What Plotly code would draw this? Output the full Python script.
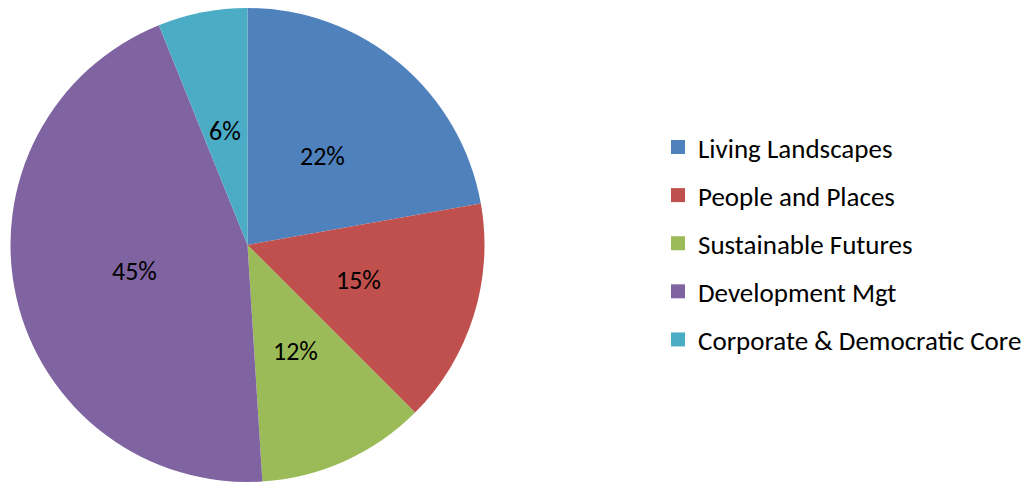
import math
import plotly.graph_objects as go

categories = ["Living Landscapes", "People and Places", "Sustainable Futures",
              "Development Mgt", "Corporate & Democratic Core"]
values = [22.2, 15.3, 11.5, 44.9, 6.1]
colors = ["#4F81BD", "#C0504D", "#9BBB59", "#8064A2", "#4BACC6"]

FONT = "Calibri, Carlito, Lato, sans-serif"
W, H = 1032, 485
DX = [10 / W, 485 / W]
DY = [3 / H, 477 / H]

fig = go.Figure()
fig.add_trace(go.Pie(
    labels=categories, values=values, sort=False, direction="clockwise",
    rotation=0, marker=dict(colors=colors, line=dict(width=0)),
    textinfo="none", domain=dict(x=DX, y=DY),
    showlegend=False, hoverinfo="label+percent",
))
for c, col in zip(categories, colors):
    fig.add_trace(go.Scatter(
        x=[None], y=[None], mode="markers", name=c, legendgroup=c,
        marker=dict(symbol="square", size=14, color=col),
    ))

# percentage labels placed along each slice's mid-angle, at ~half radius
total = sum(values)
cx = (DX[0] + DX[1]) / 2
cy = (DY[0] + DY[1]) / 2
R = min((DX[1] - DX[0]) * W, (DY[1] - DY[0]) * H) / 2
cum = 0.0
for v in values:
    mid = (cum + v / 2) / total * 2 * math.pi
    cum += v
    px = cx + 0.49 * R * math.sin(mid) / W
    py = cy + 0.49 * R * math.cos(mid) / H
    pct = int(math.floor(v / total * 100 + 0.5))
    fig.add_annotation(x=px, y=py, xref="paper", yref="paper",
                       xanchor="center", yanchor="middle",
                       text=f"{pct}%", showarrow=False,
                       font=dict(family=FONT, size=26, color="black"))

fig.update_layout(
    width=W, height=H,
    margin=dict(l=0, r=0, t=0, b=0),
    paper_bgcolor="white", plot_bgcolor="white",
    xaxis=dict(visible=False), yaxis=dict(visible=False),
    legend=dict(x=658 / W, xanchor="left", y=0.498, yanchor="middle",
                font=dict(family=FONT, size=27, color="black"),
                tracegroupgap=10, traceorder="grouped",
                bgcolor="rgba(0,0,0,0)", borderwidth=0),
    font=dict(family=FONT),
)
fig.write_html("out.html")
